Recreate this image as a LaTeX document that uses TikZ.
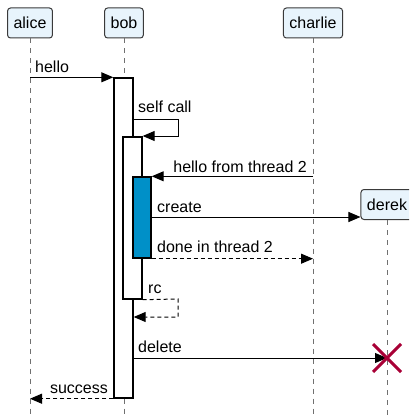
\documentclass[tikz,border=0pt]{standalone}
\usepackage{fontspec}
\setmainfont{Liberation Sans}
\usetikzlibrary{arrows.meta,calc}
\definecolor{partfill}{HTML}{E8F4FC}
\definecolor{partdraw}{HTML}{3A3A3A}
\definecolor{lifegray}{HTML}{707070}
\definecolor{actblue}{HTML}{0090C8}
\definecolor{killred}{HTML}{A80036}
\tikzset{
  x=1pt, y=-1pt,
  every node/.style={font=\fontsize{16}{19}\selectfont},
  participant/.style={draw=partdraw, fill=partfill, rounded corners=3pt,
    line width=1pt, minimum height=30pt, inner xsep=6pt, inner ysep=0pt},
  lifeline/.style={draw=lifegray, dashed, dash pattern=on 5pt off 5pt, line width=0.8pt},
  activation/.style={draw=black, fill=white, line width=1.4pt, inner sep=0pt},
  msg/.style={draw=black, line width=1pt, -{Triangle[length=12pt,width=10pt]}},
  reply/.style={msg, dashed, dash pattern=on 4pt off 3pt},
  lbl/.style={inner sep=0pt},
  killmark/.style={draw=killred, line width=3pt}
}
\begin{document}
\begin{tikzpicture}
\useasboundingbox (0,0) rectangle (409,417);
\begin{scope}
\clip (0,0) rectangle (409,417);

% participants
\node[participant] (alice) at (30,23) {alice};
\node[participant] (bob) at (124,23) {bob};
\node[participant] (charlie) at (313,23) {charlie};
\node[participant] (derek) at (387,204.5) {derek};

% lifelines
\coordinate (aliceEnd) at (30,417);
\coordinate (bobEnd) at (124,417);
\coordinate (charlieEnd) at (313,417);
\coordinate (derekEnd) at (387,417);
\draw[lifeline] (alice.south) -- (aliceEnd);
\draw[lifeline] (bob.south) -- (bobEnd);
\draw[lifeline] (charlie.south) -- (charlieEnd);
\draw[lifeline] (derek.south) -- (derekEnd);

% activation bars on bob
\node[activation, minimum width=19pt, minimum height=320pt] (act1) at (123.5,238) {};
\node[activation, minimum width=19pt, minimum height=162pt] (act2) at (132.5,218) {};
\node[activation, fill=actblue, minimum width=18pt, minimum height=81pt] (act3) at (142,217.5) {};

% hello
\coordinate (helloStart) at (alice |- act1.north);
\draw[msg] (helloStart) -- (act1.north west);
\node[lbl, anchor=base west] (lhello) at (35,73) {hello};

% self call
\coordinate (sc1) at (act1.east |- 0,119);
\coordinate (sc2) at (178,119);
\coordinate (sc3) at (178,136);
\coordinate (sc4) at (act2.east |- 0,136);
\draw[msg] (sc1) -- (sc2) -- (sc3) -- (sc4);
\node[lbl, anchor=base west] (lself) at (138,113) {self call};

% hello from thread 2
\coordinate (hf) at (charlie |- act3.north);
\draw[msg] (hf) -- (act3.north east);
\node[lbl, anchor=base east] (lhf) at (307,172) {hello from thread 2};

% create
\coordinate (cr) at (act3.east |- 0,217);
\coordinate (crEnd) at (derek.west |- 0,217);
\draw[msg] (cr) -- (crEnd);
\node[lbl, anchor=base west] (lcreate) at (157,212) {create};

% done in thread 2
\coordinate (doneEnd) at (charlie |- act3.south);
\draw[reply] (act3.south east) -- (doneEnd);
\node[lbl, anchor=base west] (ldone) at (157,252) {done in thread 2};

% rc
\coordinate (rc2) at (178,299);
\coordinate (rc3) at (178,317);
\coordinate (rc4) at (act1.east |- 0,317);
\draw[reply] (act2.south east) -- (rc2) -- (rc3) -- (rc4);
\node[lbl, anchor=base west] (lrc) at (148,293) {rc};

% delete
\coordinate (kill) at (387,358);
\coordinate (del) at (act1.east |- kill);
\draw[msg] (del) -- (kill);
\draw[killmark] ($(kill)+(-14,-14)$) -- ($(kill)+(14,14)$);
\draw[killmark] ($(kill)+(-14,14)$) -- ($(kill)+(14,-14)$);
\node[lbl, anchor=base west] (ldelete) at (138,352) {delete};

% success
\coordinate (succEnd) at (alice |- act1.south);
\draw[reply] (act1.south west) -- (succEnd);
\node[lbl, anchor=base east] (lsucc) at (108,393) {success};
\end{scope}
\end{tikzpicture}
\end{document}
